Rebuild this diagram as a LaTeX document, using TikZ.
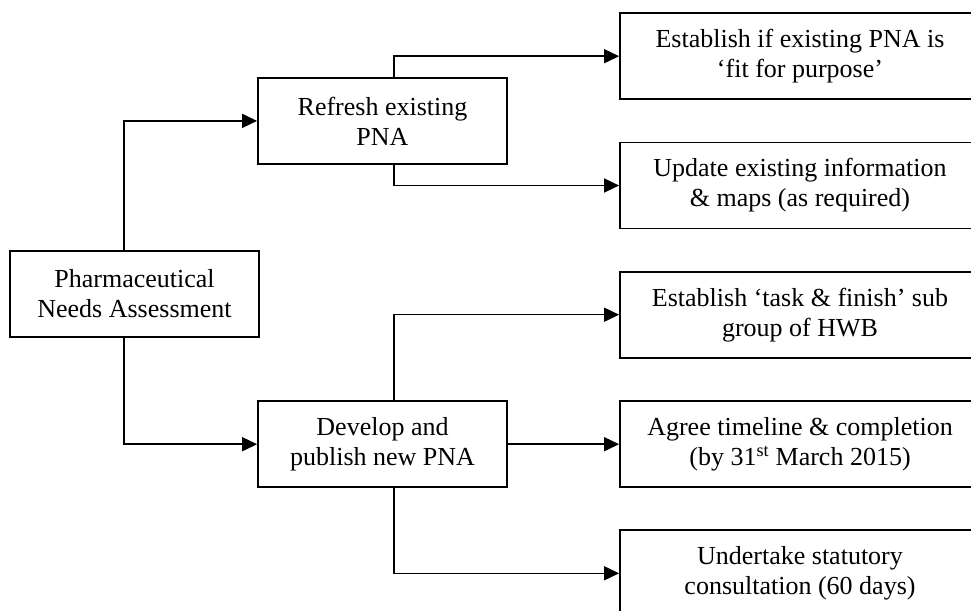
\documentclass[tikz,border=0pt]{standalone}
\usepackage{fontspec}
\setmainfont{Liberation Serif}
\usetikzlibrary{arrows.meta}
\begin{document}
\begin{tikzpicture}[x=1pt,y=-1pt,
  box/.style={draw,line width=1.8pt,inner sep=0pt,align=center,
    font=\fontsize{26}{30}\selectfont},
  lbox/.style={box,minimum width=249pt,minimum height=86pt},
  rbox/.style={box,minimum width=360pt,minimum height=86pt},
  arr/.style={line width=1.5pt,-{Triangle[length=15pt,width=14pt]}}]
\useasboundingbox (0,0) rectangle (971,610);
\clip (0,0) rectangle (971,610);
\fill[white] (0,0) rectangle (971,610);
\coordinate (lx) at (124,0);
\coordinate (bx) at (394,0);
\node[lbox] (pna) at (134.5,293.7) {Pharmaceutical\\Needs Assessment};
\node[lbox] (refresh) at (382.5,120.9) {Refresh existing\\PNA};
\node[lbox] (develop) at (382.5,444.2) {Develop and\\publish new PNA};
\node[rbox] (r1) at (800,56.2) {Establish if existing PNA is\\‘fit for purpose’};
\node[rbox] (r2) at (800,185.5) {Update existing information\\\& maps (as required)};
\node[rbox] (r3) at (800,314.7) {Establish ‘task \& finish’ sub\\group of HWB};
\node[rbox] (r4) at (800,444.2) {Agree timeline \& completion\\(by 31\textsuperscript{st} March 2015)};
\node[rbox] (r5) at (800,573.3) {Undertake statutory\\consultation (60 days)};
\draw[arr] (pna.north -| lx) |- (refresh.west);
\draw[arr] (pna.south -| lx) |- (develop.west);
\draw[arr] (refresh.north -| bx) |- (r1.west);
\draw[arr] (refresh.south -| bx) |- (r2.west);
\draw[arr] (develop.north -| bx) |- (r3.west);
\draw[arr] (develop.east) -- (r4.west);
\draw[arr] (develop.south -| bx) |- (r5.west);
\end{tikzpicture}
\end{document}
